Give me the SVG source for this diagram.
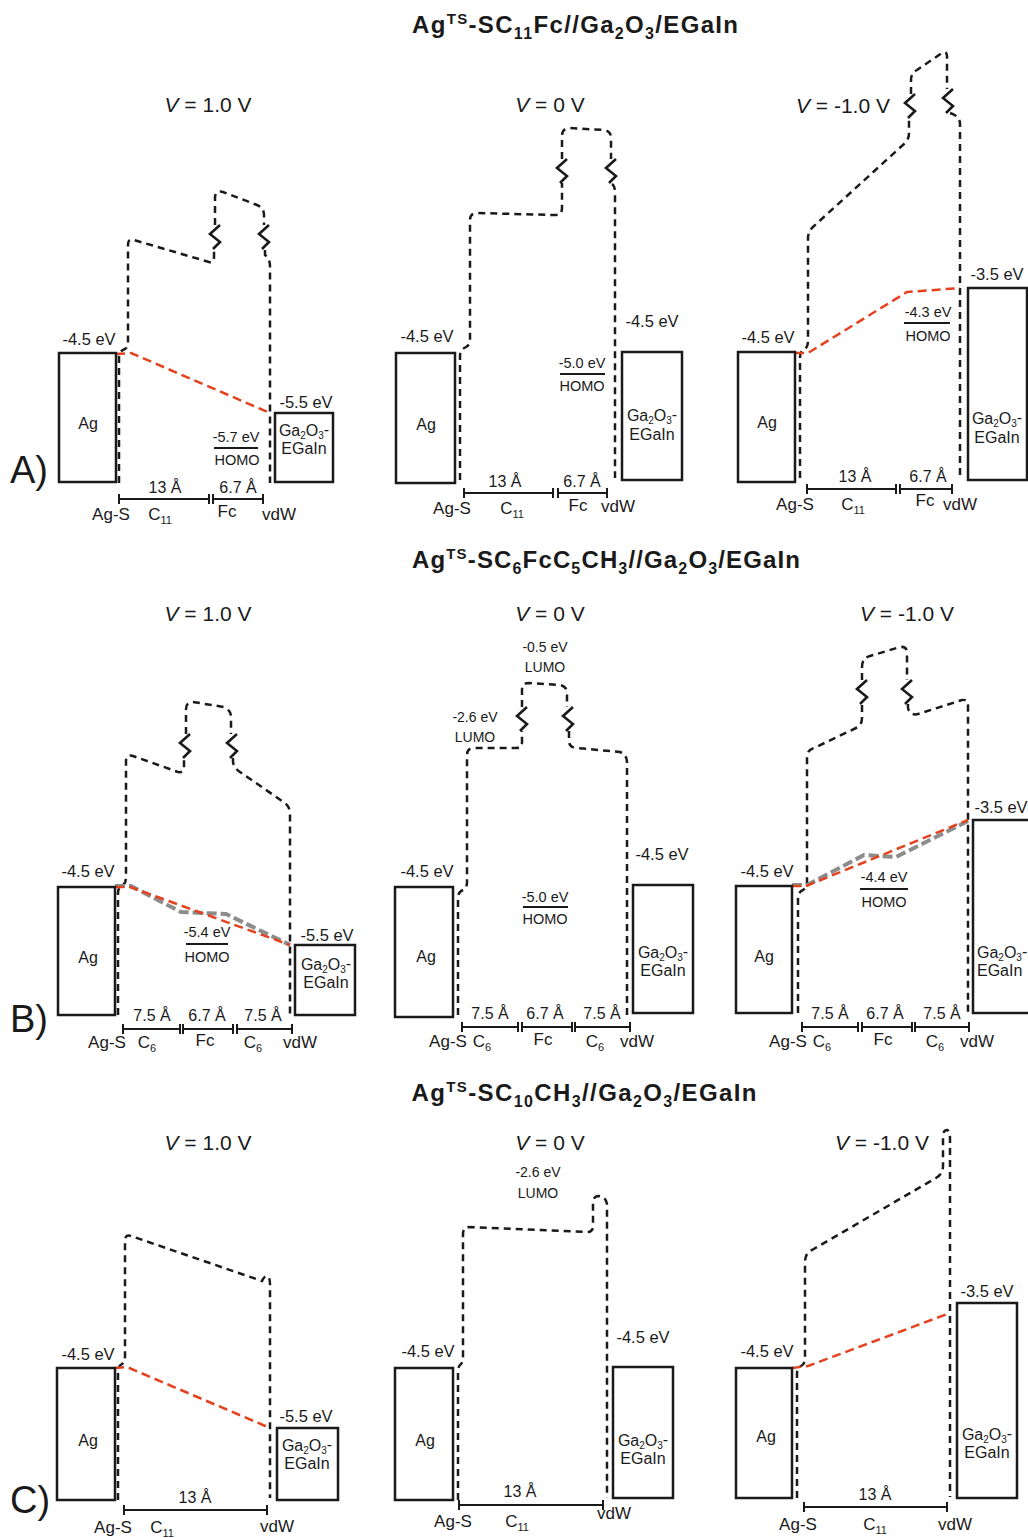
<svg xmlns="http://www.w3.org/2000/svg" width="1028" height="1538" viewBox="0 0 1028 1538">
<style>
.box{fill:#fff;stroke:#1a1a1a;stroke-width:2.5}
.bar{fill:none;stroke:#1a1a1a;stroke-width:2.5;stroke-dasharray:7 5}
.zz{fill:none;stroke:#1a1a1a;stroke-width:2.6;stroke-linejoin:miter}
.lvl{fill:none;stroke:#e5411e;stroke-width:2.5;stroke-dasharray:9 5}
.gry{fill:none;stroke:#8c8c8c;stroke-width:4;stroke-dasharray:10 4}
.sc{fill:none;stroke:#1a1a1a;stroke-width:2}
.ul{fill:none;stroke:#1a1a1a;stroke-width:2}
text{font-family:"Liberation Sans",Arial,sans-serif;fill:#1a1a1a}
.e{font-size:16.5px;text-anchor:middle}
.h{font-size:14.5px;text-anchor:middle}
.s{font-size:14px;text-anchor:middle}
.bx{font-size:16px;text-anchor:middle}
.bxs{font-size:16px;text-anchor:start}
.d{font-size:16px;text-anchor:middle}
.lb{font-size:17px;text-anchor:middle}
.v{font-size:21px;text-anchor:middle}
.ttl{font-size:24px;font-weight:bold;text-anchor:middle}
.pl{font-size:38px}
</style>
<defs>
<path id="zz" class="zz" d="M5,-12 L-5,-3 L5,5 L-2,12"/>
</defs>
<rect x="0" y="0" width="1028" height="1538" fill="#fff"/>

<!-- Titles -->
<g id="titleA"><text class="ttl" x="575" y="33" textLength="326" lengthAdjust="spacing">Ag<tspan font-size="15" dy="-9">TS</tspan><tspan dy="9">-SC</tspan><tspan font-size="16" dy="6">11</tspan><tspan dy="-6">Fc//Ga</tspan><tspan font-size="16" dy="6">2</tspan><tspan dy="-6">O</tspan><tspan font-size="16" dy="6">3</tspan><tspan dy="-6">/EGaIn</tspan></text></g>
<g id="titleB"><text class="ttl" x="606" y="568" textLength="388" lengthAdjust="spacing">Ag<tspan font-size="15" dy="-9">TS</tspan><tspan dy="9">-SC</tspan><tspan font-size="16" dy="6">6</tspan><tspan dy="-6">FcC</tspan><tspan font-size="16" dy="6">5</tspan><tspan dy="-6">CH</tspan><tspan font-size="16" dy="6">3</tspan><tspan dy="-6">//Ga</tspan><tspan font-size="16" dy="6">2</tspan><tspan dy="-6">O</tspan><tspan font-size="16" dy="6">3</tspan><tspan dy="-6">/EGaIn</tspan></text></g>
<g id="titleC"><text class="ttl" x="584" y="1101" textLength="345" lengthAdjust="spacing">Ag<tspan font-size="15" dy="-9">TS</tspan><tspan dy="9">-SC</tspan><tspan font-size="16" dy="6">10</tspan><tspan dy="-6">CH</tspan><tspan font-size="16" dy="6">3</tspan><tspan dy="-6">//Ga</tspan><tspan font-size="16" dy="6">2</tspan><tspan dy="-6">O</tspan><tspan font-size="16" dy="6">3</tspan><tspan dy="-6">/EGaIn</tspan></text></g>

<!-- Connectors: barriers and level lines -->
<g id="connectors">
 <!-- A1 -->
 <path class="bar" d="M119,483 V357 Q119,351 125,349 Q128,347 128,342 V245 Q128,238 134,240 L209,262 Q214,263 214,257 V249"/>
 <use href="#zz" x="215" y="237"/>
 <path class="bar" d="M215,225 V198 Q215,190 223,192 L257,205 Q264,208 264,215 V225"/>
 <use href="#zz" x="264" y="237"/>
 <path class="bar" d="M265,250 V255 Q270,259 270,266 V483"/>
 <path class="lvl" d="M116,354 L131,353 L270,413"/>
 <!-- A2 -->
 <path class="bar" d="M460,480 V356 Q460,350 466,347 Q470,345 470,339 V220 Q470,213 477,213 L555,215 Q562,215 562,208 V183"/>
 <use href="#zz" x="562" y="171"/>
 <path class="bar" d="M562,159 V136 Q562,128 570,128 L604,130 Q611,131 611,138 V159"/>
 <use href="#zz" x="611" y="171"/>
 <path class="bar" d="M612,184 Q615,186 615,193 V478"/>
 <!-- A3 -->
 <path class="bar" d="M800,478 V357 Q800,351 805,349 Q808,347 808,341 V238 Q808,231 814,226 L904,144 Q909,140 909,133 V118"/>
 <use href="#zz" x="910" y="106"/>
 <path class="bar" d="M911,94 V80 Q911,73 917,70 L942,53 Q947,50 947,57 V89"/>
 <use href="#zz" x="948" y="101"/>
 <path class="bar" d="M950,113 Q960,116 960,124 V478"/>
 <path class="lvl" d="M795,353 L808,353 L907,292 L960,288"/>
 <!-- B1 -->
 <path class="bar" d="M118,1015 V893 Q118,887 123,885 Q126,883 126,877 V761 Q126,754 133,756 L178,772 Q184,773 184,767 V758"/>
 <use href="#zz" x="185" y="746"/>
 <path class="bar" d="M186,734 V709 Q186,702 193,702 L224,707 Q231,710 231,717 V734"/>
 <use href="#zz" x="232" y="746"/>
 <path class="bar" d="M233,758 V762 Q234,768 240,772 L285,803 Q290,807 290,814 V1015"/>
 <path class="gry" d="M115,886 L131,886 L181,912 L226,914 L290,945"/>
 <path class="lvl" d="M115,887 L130,887 L290,945"/>
 <!-- B2 -->
 <path class="bar" d="M458,1015 V898 Q458,892 463,890 Q467,888 467,882 V755 Q467,748 474,748 L516,748 Q522,748 522,742 V731"/>
 <use href="#zz" x="522" y="719"/>
 <path class="bar" d="M522,707 V690 Q522,683 529,683 L560,685 Q567,686 567,694 V707"/>
 <use href="#zz" x="568" y="719"/>
 <path class="bar" d="M569,731 V742 Q570,748 577,748 L620,752 Q627,755 627,762 V1015"/>
 <!-- B3 -->
 <path class="bar" d="M798,1013 V899 Q798,892 803,890 Q807,888 807,882 V757 Q807,750 814,748 L856,728 Q862,725 862,718 V704"/>
 <use href="#zz" x="862" y="692"/>
 <path class="bar" d="M862,680 V667 Q862,658 870,656 L900,647 Q907,646 907,653 V680"/>
 <use href="#zz" x="907" y="692"/>
 <path class="bar" d="M908,704 V708 Q910,716 918,714 L962,700 Q968,699 968,706 V1013"/>
 <path class="gry" d="M792,885 L807,885 L864,855 L896,857 L970,820"/>
 <path class="lvl" d="M792,886 L806,886 L968,820"/>
 <!-- C1 -->
 <path class="bar" d="M118,1500 V1372 Q118,1366 122,1364 Q125,1362 125,1357 V1241 Q125,1234 131,1236 L262,1281 Q264,1276 267,1276 Q270,1277 270,1284 V1498"/>
 <path class="lvl" d="M115,1368 L127,1367 L270,1428"/>
 <!-- C2 -->
 <path class="bar" d="M458,1500 V1372 Q458,1366 461,1364 Q463,1362 463,1356 V1234 Q463,1227 470,1227 L587,1232 Q593,1232 593,1226 V1203 Q593,1196 599,1196 Q606,1197 607,1204 V1498"/>
 <!-- C3 -->
 <path class="bar" d="M797,1498 V1374 Q797,1368 801,1366 Q805,1364 805,1358 V1262 Q805,1253 812,1250 L936,1178 Q943,1174 943,1166 V1137 Q943,1130 947,1130 Q950,1131 950,1138 V1497"/>
 <path class="lvl" d="M792,1368 L808,1366 L950,1313"/>
</g>

<!-- ===== Panel A1 ===== -->
<g id="A1">
 <text class="v" x="208" y="112"><tspan font-style="italic">V</tspan> = 1.0 V</text>
 <g id="A1-ag"><rect class="box" x="59" y="353" width="57" height="129"/><text class="bx" x="88" y="429">Ag</text><text class="e" x="89" y="345">-4.5 eV</text></g>
 <g id="A1-ga"><rect class="box" x="275" y="413" width="58" height="69"/><text class="bx" x="304" y="436">Ga<tspan font-size="10" dy="3">2</tspan><tspan dy="-3">O</tspan><tspan font-size="10" dy="3">3</tspan><tspan dy="-4">-</tspan></text><text class="bx" x="304" y="454">EGaIn</text><text class="e" x="306" y="408">-5.5 eV</text></g>
 <g id="A1-homo"><text class="h" x="236" y="442">-5.7 eV</text><path class="ul" d="M214,448 H258"/><text class="h" x="237" y="465">HOMO</text></g>
 <text class="pl" x="10" y="483">A)</text>
 <g id="A1-scale"><path class="sc" d="M119,499 H209 M213,499 H263 M119,494 V504 M209,494 V504 M213,494 V504 M263,494 V504"/>
  <text class="d" x="165" y="493">13 Å</text><text class="d" x="238" y="493">6.7 Å</text>
  <text class="lb" x="111" y="520">Ag-S</text><text class="lb" x="160" y="520">C<tspan font-size="11" dy="4">11</tspan></text><text class="lb" x="227" y="517">Fc</text><text class="lb" x="279" y="520">vdW</text></g>
</g>

<!-- ===== Panel A2 ===== -->
<g id="A2">
 <text class="v" x="550" y="112"><tspan font-style="italic">V</tspan> = 0 V</text>
 <g id="A2-ag"><rect class="box" x="396" y="353" width="59" height="130"/><text class="bx" x="426" y="430">Ag</text><text class="e" x="427" y="342">-4.5 eV</text></g>
 <g id="A2-ga"><rect class="box" x="622" y="352" width="60" height="128"/><text class="bx" x="652" y="421">Ga<tspan font-size="10" dy="3">2</tspan><tspan dy="-3">O</tspan><tspan font-size="10" dy="3">3</tspan><tspan dy="-4">-</tspan></text><text class="bx" x="652" y="440">EGaIn</text><text class="e" x="652" y="327">-4.5 eV</text></g>
 <g id="A2-homo"><text class="h" x="582" y="368">-5.0 eV</text><path class="ul" d="M560,374 H605"/><text class="h" x="582" y="391">HOMO</text></g>
 <g id="A2-scale"><path class="sc" d="M464,493 H553 M558,493 H607 M464,488 V498 M553,488 V498 M558,488 V498 M607,488 V498"/>
  <text class="d" x="505" y="487">13 Å</text><text class="d" x="582" y="487">6.7 Å</text>
  <text class="lb" x="452" y="514">Ag-S</text><text class="lb" x="512" y="514">C<tspan font-size="11" dy="4">11</tspan></text><text class="lb" x="578" y="511">Fc</text><text class="lb" x="618" y="512">vdW</text></g>
</g>

<!-- ===== Panel A3 ===== -->
<g id="A3">
 <text class="v" x="843" y="113"><tspan font-style="italic">V</tspan> = -1.0 V</text>
 <g id="A3-ag"><rect class="box" x="738" y="352" width="57" height="130"/><text class="bx" x="767" y="428">Ag</text><text class="e" x="768" y="343">-4.5 eV</text></g>
 <g id="A3-ga"><rect class="box" x="968" y="288" width="59" height="192"/><text class="bx" x="997" y="424">Ga<tspan font-size="10" dy="3">2</tspan><tspan dy="-3">O</tspan><tspan font-size="10" dy="3">3</tspan><tspan dy="-4">-</tspan></text><text class="bx" x="997" y="443">EGaIn</text><text class="e" x="997" y="280">-3.5 eV</text></g>
 <g id="A3-homo"><text class="h" x="928" y="317">-4.3 eV</text><path class="ul" d="M904,323 H950"/><text class="h" x="928" y="341">HOMO</text></g>
 <g id="A3-scale"><path class="sc" d="M807,489 H896 M900,489 H952 M807,484 V494 M896,484 V494 M900,484 V494 M952,484 V494"/>
  <text class="d" x="855" y="482">13 Å</text><text class="d" x="928" y="482">6.7 Å</text>
  <text class="lb" x="795" y="510">Ag-S</text><text class="lb" x="853" y="510">C<tspan font-size="11" dy="4">11</tspan></text><text class="lb" x="925" y="506">Fc</text><text class="lb" x="960" y="510">vdW</text></g>
</g>

<!-- ===== Panel B1 ===== -->
<g id="B1">
 <text class="v" x="208" y="621"><tspan font-style="italic">V</tspan> = 1.0 V</text>
 <g id="B1-ag"><rect class="box" x="58" y="887" width="57" height="128"/><text class="bx" x="88" y="963">Ag</text><text class="e" x="88" y="877">-4.5 eV</text></g>
 <g id="B1-ga"><rect class="box" x="295" y="945" width="60" height="70"/><text class="bx" x="326" y="970">Ga<tspan font-size="10" dy="3">2</tspan><tspan dy="-3">O</tspan><tspan font-size="10" dy="3">3</tspan><tspan dy="-4">-</tspan></text><text class="bx" x="326" y="988">EGaIn</text><text class="e" x="327" y="941">-5.5 eV</text></g>
 <g id="B1-homo"><text class="h" x="207" y="937">-5.4 eV</text><path class="ul" d="M186,944 H228"/><text class="h" x="207" y="962">HOMO</text></g>
 <text class="pl" x="10" y="1032">B)</text>
 <g id="B1-scale"><path class="sc" d="M123,1029 H180 M183,1029 H233 M237,1029 H292 M123,1024 V1034 M180,1024 V1034 M183,1024 V1034 M233,1024 V1034 M237,1024 V1034 M292,1024 V1034"/>
  <text class="d" x="152" y="1021">7.5 Å</text><text class="d" x="207" y="1021">6.7 Å</text><text class="d" x="263" y="1021">7.5 Å</text>
  <text class="lb" x="107" y="1048">Ag-S</text><text class="lb" x="147" y="1048">C<tspan font-size="11" dy="4">6</tspan></text><text class="lb" x="205" y="1046">Fc</text><text class="lb" x="253" y="1048">C<tspan font-size="11" dy="4">6</tspan></text><text class="lb" x="300" y="1048">vdW</text></g>
</g>

<!-- ===== Panel B2 ===== -->
<g id="B2">
 <text class="v" x="550" y="621"><tspan font-style="italic">V</tspan> = 0 V</text>
 <g id="B2-lumo1"><text class="s" x="545" y="652">-0.5 eV</text><text class="s" x="545" y="672">LUMO</text></g>
 <g id="B2-lumo2"><text class="s" x="475" y="722">-2.6 eV</text><text class="s" x="475" y="742">LUMO</text></g>
 <g id="B2-ag"><rect class="box" x="395" y="887" width="58" height="130"/><text class="bx" x="426" y="962">Ag</text><text class="e" x="427" y="877">-4.5 eV</text></g>
 <g id="B2-ga"><rect class="box" x="633" y="885" width="60" height="128"/><text class="bx" x="663" y="958">Ga<tspan font-size="10" dy="3">2</tspan><tspan dy="-3">O</tspan><tspan font-size="10" dy="3">3</tspan><tspan dy="-4">-</tspan></text><text class="bx" x="663" y="976">EGaIn</text><text class="e" x="662" y="860">-4.5 eV</text></g>
 <g id="B2-homo"><text class="h" x="545" y="902">-5.0 eV</text><path class="ul" d="M523,907 H568"/><text class="h" x="545" y="924">HOMO</text></g>
 <g id="B2-scale"><path class="sc" d="M462,1027 H518 M522,1027 H572 M575,1027 H630 M462,1022 V1032 M518,1022 V1032 M522,1022 V1032 M572,1022 V1032 M575,1022 V1032 M630,1022 V1032"/>
  <text class="d" x="490" y="1019">7.5 Å</text><text class="d" x="545" y="1019">6.7 Å</text><text class="d" x="602" y="1019">7.5 Å</text>
  <text class="lb" x="448" y="1047">Ag-S</text><text class="lb" x="482" y="1047">C<tspan font-size="11" dy="4">6</tspan></text><text class="lb" x="543" y="1045">Fc</text><text class="lb" x="595" y="1047">C<tspan font-size="11" dy="4">6</tspan></text><text class="lb" x="637" y="1047">vdW</text></g>
</g>

<!-- ===== Panel B3 ===== -->
<g id="B3">
 <text class="v" x="907" y="621"><tspan font-style="italic">V</tspan> = -1.0 V</text>
 <g id="B3-ag"><rect class="box" x="736" y="886" width="56" height="127"/><text class="bx" x="764" y="962">Ag</text><text class="e" x="767" y="877">-4.5 eV</text></g>
 <g id="B3-ga"><rect class="box" x="973" y="820" width="62" height="193"/><text class="bxs" x="977" y="958">Ga<tspan font-size="10" dy="3">2</tspan><tspan dy="-3">O</tspan><tspan font-size="10" dy="3">3</tspan><tspan dy="-4">-</tspan></text><text class="bxs" x="977" y="976">EGaIn</text><text class="e" x="1001" y="813">-3.5 eV</text></g>
 <g id="B3-homo"><text class="h" x="884" y="882">-4.4 eV</text><path class="ul" d="M860,889 H908"/><text class="h" x="884" y="907">HOMO</text></g>
 <g id="B3-scale"><path class="sc" d="M802,1027 H858 M862,1027 H912 M915,1027 H969 M802,1022 V1032 M858,1022 V1032 M862,1022 V1032 M912,1022 V1032 M915,1022 V1032 M969,1022 V1032"/>
  <text class="d" x="830" y="1019">7.5 Å</text><text class="d" x="885" y="1019">6.7 Å</text><text class="d" x="942" y="1019">7.5 Å</text>
  <text class="lb" x="788" y="1047">Ag-S</text><text class="lb" x="822" y="1047">C<tspan font-size="11" dy="4">6</tspan></text><text class="lb" x="883" y="1045">Fc</text><text class="lb" x="935" y="1047">C<tspan font-size="11" dy="4">6</tspan></text><text class="lb" x="977" y="1047">vdW</text></g>
</g>

<!-- ===== Panel C1 ===== -->
<g id="C1">
 <text class="v" x="208" y="1150"><tspan font-style="italic">V</tspan> = 1.0 V</text>
 <g id="C1-ag"><rect class="box" x="57" y="1368" width="58" height="132"/><text class="bx" x="88" y="1446">Ag</text><text class="e" x="88" y="1360">-4.5 eV</text></g>
 <g id="C1-ga"><rect class="box" x="277" y="1428" width="61" height="72"/><text class="bx" x="307" y="1451">Ga<tspan font-size="10" dy="3">2</tspan><tspan dy="-3">O</tspan><tspan font-size="10" dy="3">3</tspan><tspan dy="-4">-</tspan></text><text class="bx" x="307" y="1469">EGaIn</text><text class="e" x="306" y="1422">-5.5 eV</text></g>
 <text class="pl" x="10" y="1513">C)</text>
 <g id="C1-scale"><path class="sc" d="M124,1510 H267 M124,1505 V1515 M267,1505 V1515"/>
  <text class="d" x="195" y="1503">13 Å</text>
  <text class="lb" x="113" y="1533">Ag-S</text><text class="lb" x="162" y="1533">C<tspan font-size="11" dy="4">11</tspan></text><text class="lb" x="277" y="1532">vdW</text></g>
</g>

<!-- ===== Panel C2 ===== -->
<g id="C2">
 <text class="v" x="550" y="1150"><tspan font-style="italic">V</tspan> = 0 V</text>
 <g id="C2-lumo"><text class="s" x="538" y="1177">-2.6 eV</text><text class="s" x="538" y="1198">LUMO</text></g>
 <g id="C2-ag"><rect class="box" x="395" y="1368" width="58" height="132"/><text class="bx" x="425" y="1446">Ag</text><text class="e" x="428" y="1357">-4.5 eV</text></g>
 <g id="C2-ga"><rect class="box" x="613" y="1367" width="60" height="131"/><text class="bx" x="643" y="1446">Ga<tspan font-size="10" dy="3">2</tspan><tspan dy="-3">O</tspan><tspan font-size="10" dy="3">3</tspan><tspan dy="-4">-</tspan></text><text class="bx" x="643" y="1464">EGaIn</text><text class="e" x="643" y="1343">-4.5 eV</text></g>
 <g id="C2-scale"><path class="sc" d="M459,1505 H603 M459,1500 V1510 M603,1500 V1510"/>
  <text class="d" x="520" y="1497">13 Å</text>
  <text class="lb" x="453" y="1527">Ag-S</text><text class="lb" x="517" y="1527">C<tspan font-size="11" dy="4">11</tspan></text><text class="lb" x="614" y="1519">vdW</text></g>
</g>

<!-- ===== Panel C3 ===== -->
<g id="C3">
 <text class="v" x="882" y="1150"><tspan font-style="italic">V</tspan> = -1.0 V</text>
 <g id="C3-ag"><rect class="box" x="736" y="1368" width="56" height="130"/><text class="bx" x="766" y="1442">Ag</text><text class="e" x="767" y="1357">-4.5 eV</text></g>
 <g id="C3-ga"><rect class="box" x="957" y="1303" width="60" height="195"/><text class="bx" x="987" y="1440">Ga<tspan font-size="10" dy="3">2</tspan><tspan dy="-3">O</tspan><tspan font-size="10" dy="3">3</tspan><tspan dy="-4">-</tspan></text><text class="bx" x="987" y="1458">EGaIn</text><text class="e" x="987" y="1297">-3.5 eV</text></g>
 <g id="C3-scale"><path class="sc" d="M804,1507 H947 M804,1502 V1512 M947,1502 V1512"/>
  <text class="d" x="875" y="1500">13 Å</text>
  <text class="lb" x="798" y="1530">Ag-S</text><text class="lb" x="875" y="1530">C<tspan font-size="11" dy="4">11</tspan></text><text class="lb" x="955" y="1530">vdW</text></g>
</g>
</svg>
